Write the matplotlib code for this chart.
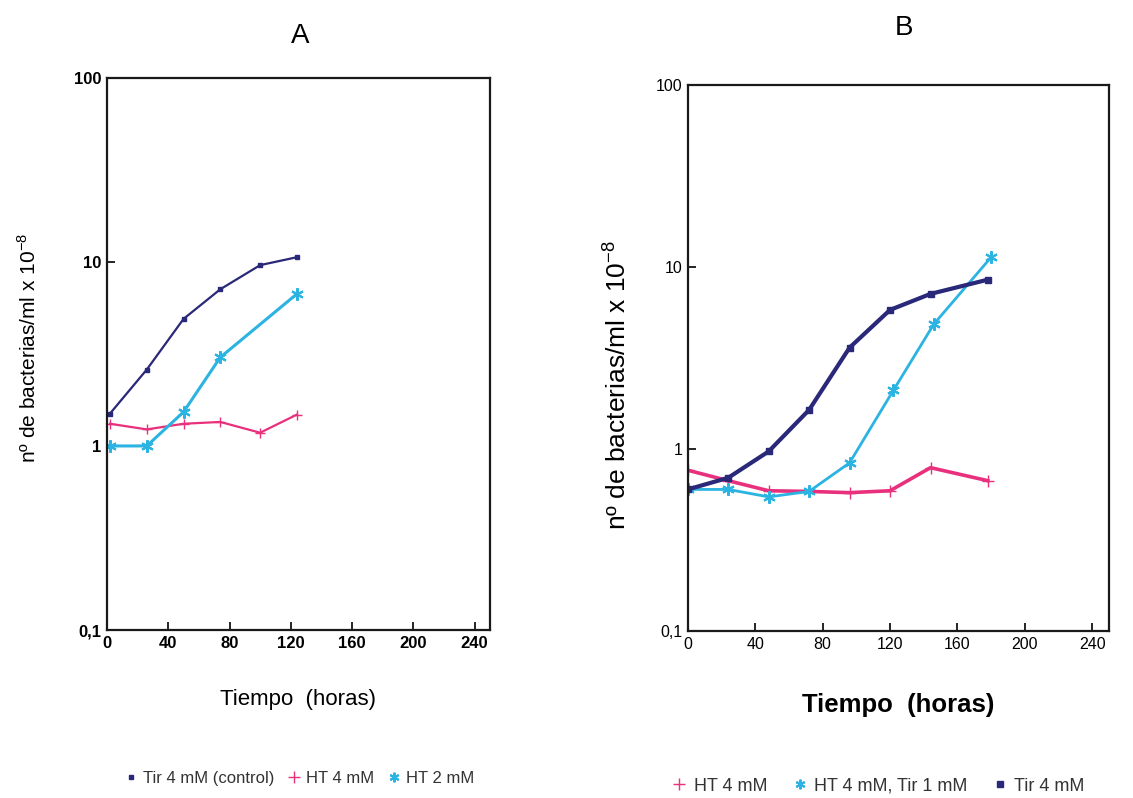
import numpy as np
import matplotlib
matplotlib.use("Agg")
import matplotlib.pyplot as plt
from matplotlib.lines import Line2D

plt.rcParams['font.family'] = ['Liberation Sans', 'DejaVu Sans']
plt.rcParams['mathtext.fontset'] = 'custom'
plt.rcParams['mathtext.rm'] = 'Liberation Sans'

NAVY = '#2a2878'
PINK = '#e8307c'
CYAN = '#2bb3e2'

# panel A
a_t_tir = [2, 26, 50, 74, 100, 124]
a_tir = [1.5, 2.6, 4.9, 7.1, 9.6, 10.6]
a_t_ht4 = [2, 26, 50, 74, 100, 124]
a_ht4 = [1.32, 1.23, 1.32, 1.35, 1.18, 1.48]
a_t_ht2 = [2, 26, 50, 74, 124]
a_ht2 = [1.0, 1.0, 1.53, 3.03, 6.7]

# panel B
b_t_ht4 = [0, 24, 48, 72, 96, 120, 144, 178]
b_ht4 = [0.765, 0.67, 0.59, 0.585, 0.576, 0.59, 0.79, 0.67]
b_t_mix = [0, 24, 48, 72, 96, 122, 146, 180]
b_mix = [0.60, 0.60, 0.546, 0.585, 0.84, 2.1, 4.85, 11.3]
b_t_tir = [0, 24, 48, 72, 96, 120, 144, 178]
b_tir = [0.60, 0.695, 0.97, 1.64, 3.6, 5.8, 7.1, 8.5]

xticks = [0, 40, 80, 120, 160, 200, 240]
yticks = [0.1, 1, 10, 100]
ylabels = ['0,1', '1', '10', '100']
ylab = 'nº de bacterias/ml x 10$^{-8}$'
ast = (6, 2, 0)

fig = plt.figure(figsize=(11.33, 7.98), dpi=100)
axA = fig.add_axes([0.0944, 0.2105, 0.338, 0.692])
axB = fig.add_axes([0.607, 0.209, 0.372, 0.685])


def style(ax, bold, size):
    ax.set_yscale('log')
    ax.set_xlim(0, 250)
    ax.set_ylim(0.1, 100)
    ax.set_xticks(xticks)
    ax.set_xticklabels([str(v) for v in xticks])
    ax.set_yticks(yticks)
    ax.set_yticklabels(ylabels)
    ax.yaxis.set_minor_locator(matplotlib.ticker.NullLocator())
    ax.tick_params(direction='in', length=6, width=1.2, labelsize=size, pad=4)
    for lab in ax.get_xticklabels() + ax.get_yticklabels():
        lab.set_fontweight('bold' if bold else 'normal')
    for s in ax.spines.values():
        s.set_linewidth(1.6)
        s.set_color('#1a1a1a')


# A
axA.plot(a_t_tir, a_tir, color=NAVY, lw=1.6, marker='s', ms=3)
axA.plot(a_t_ht4, a_ht4, color=PINK, lw=1.6, marker='+', ms=7)
axA.plot(a_t_ht2, a_ht2, color=CYAN, lw=2.2, marker=ast, ms=9, mew=1.5)
style(axA, True, 12)
axA.set_xlabel('Tiempo  (horas)', fontsize=16, labelpad=28)
axA.set_ylabel(ylab, fontsize=15)
axA.yaxis.set_label_coords(-0.175, 0.51)
fig.text(0.265, 0.955, 'A', fontsize=20, ha='center', va='center')

# B
axB.plot(b_t_ht4, b_ht4, color=PINK, lw=2.6, marker='+', ms=8)
axB.plot(b_t_mix, b_mix, color=CYAN, lw=2.0, marker=ast, ms=9, mew=1.5)
axB.plot(b_t_tir, b_tir, color=NAVY, lw=3.0, marker='s', ms=5)
style(axB, False, 11.5)
axB.set_xlabel('Tiempo  (horas)', fontsize=18.5, fontweight='bold', labelpad=30)
axB.set_ylabel(ylab, fontsize=19)
axB.yaxis.set_label_coords(-0.135, 0.45)
fig.text(0.798, 0.965, 'B', fontsize=20, ha='center', va='center')

hA = [Line2D([], [], ls='none', marker='s', ms=3, color=NAVY),
      Line2D([], [], ls='none', marker='+', ms=8, color=PINK),
      Line2D([], [], ls='none', marker=ast, ms=7, mew=1.5, color=CYAN)]
fig.legend(hA, ['Tir 4 mM (control)', 'HT 4 mM', 'HT 2 mM'], loc='center',
           bbox_to_anchor=(0.265, 0.025), ncol=3, frameon=False, fontsize=12,
           handlelength=0.6, handletextpad=0.4, columnspacing=0.9,
           labelcolor='#333333')

hB = [Line2D([], [], ls='none', marker='+', ms=8, color=PINK),
      Line2D([], [], ls='none', marker=ast, ms=7, mew=1.5, color=CYAN),
      Line2D([], [], ls='none', marker='s', ms=4, color=NAVY)]
fig.legend(hB, ['HT 4 mM', 'HT 4 mM, Tir 1 mM', 'Tir 4 mM'], loc='center',
           bbox_to_anchor=(0.776, 0.015), ncol=3, frameon=False, fontsize=13,
           handlelength=0.6, handletextpad=0.5, columnspacing=1.5,
           labelcolor='#333333')

fig.savefig('out.png', dpi=100, facecolor='white')
